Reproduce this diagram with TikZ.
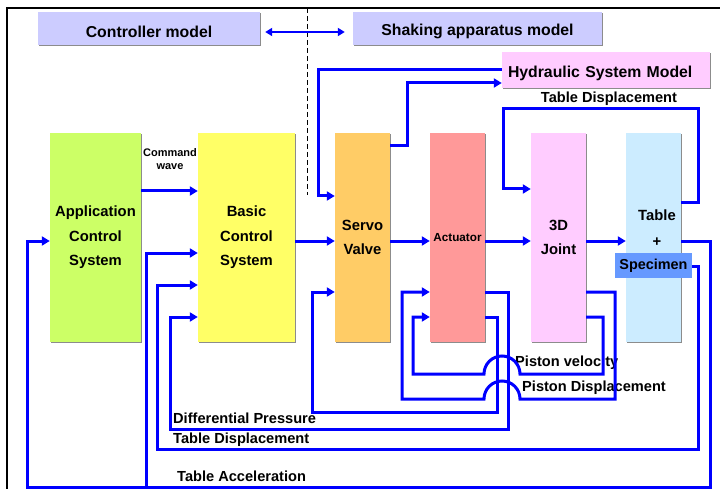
\documentclass[tikz,border=0pt]{standalone}
\usepackage{fontspec}
\setmainfont{Liberation Sans}
\usetikzlibrary{arrows.meta,shadows}
\definecolor{wireblue}{HTML}{0000FF}
\definecolor{modelblue}{HTML}{CCCCFF}
\definecolor{hydpink}{HTML}{FFCCFF}
\definecolor{appgreen}{HTML}{CCFF66}
\definecolor{basicyellow}{HTML}{FFFF66}
\definecolor{servoorange}{HTML}{FFCC66}
\definecolor{actred}{HTML}{FF9999}
\definecolor{tablecyan}{HTML}{CCECFF}
\definecolor{specblue}{HTML}{6699FF}

\begin{document}
\begin{tikzpicture}[x=1pt, y=-1pt,
    box/.style={rectangle, inner sep=0pt, align=center,
      font=\bfseries\fontsize{14.8}{24.5}\selectfont,
      drop shadow={shadow xshift=1.2pt, shadow yshift=-1.2pt, fill=black!45, opacity=1}},
    titlebox/.style={box, text height=17.5pt, font=\bfseries\fontsize{15.8}{18}\selectfont},
    wire/.style={draw=wireblue, line width=3pt},
    arr/.style={wire, -{Triangle[length=8pt, width=9pt]}},
    lbl/.style={inner sep=0pt, anchor=west, font=\bfseries\fontsize{14.6}{17}\selectfont}]
  \useasboundingbox (0,0) rectangle (720,489);
  \draw[line width=1.5pt] (7,489) -- (7,8) -- (720,8);
  \draw[line width=1pt, dash pattern=on 5pt off 3pt] (307,8) -- (307,195);

  \node[titlebox, fill=modelblue, minimum width=222pt, minimum height=33pt]
    (ctrl) at (149,28.5) {Controller model};
  \node[titlebox, fill=modelblue, minimum width=249pt, minimum height=33pt]
    (shake) at (477.5,28.5) {Shaking apparatus model};
  \node[titlebox, fill=hydpink, minimum width=208pt, minimum height=36pt,
    text width=196pt, align=left]
    (hyd) at (606,70) {Hydraulic System Model};

  \node[box, fill=appgreen, minimum width=91pt, minimum height=209pt]
    (app) at (95.5,237.5) {Application\\Control\\System};
  \node[box, fill=basicyellow, minimum width=97pt, minimum height=209pt]
    (basic) at (246.5,237.5) {Basic\\Control\\System};
  \node[box, fill=servoorange, minimum width=55pt, minimum height=209pt]
    (servo) at (362.5,237.5) {Servo\\Valve};
  \node[box, fill=actred, minimum width=55pt, minimum height=209pt,
    font=\bfseries\fontsize{11.7}{14}\selectfont]
    (act) at (457.5,237.5) {Actuator};
  \node[box, fill=hydpink, minimum width=55pt, minimum height=209pt]
    (joint) at (558.5,237.5) {3D\\Joint};
  \node[box, fill=tablecyan, minimum width=55pt, minimum height=209pt]
    (table) at (653.5,237.5) {};
  \node[inner sep=0pt, align=center, font=\bfseries\fontsize{14.8}{26}\selectfont]
    (tabletxt) at ([xshift=3.5pt, yshift=9.5pt]table.center) {Table\\+};
  \node[fill=specblue, inner sep=0pt, minimum width=77pt, minimum height=25pt,
    font=\bfseries\fontsize{14.4}{17}\selectfont]
    (spec) at (653.5,265.5) {Specimen};

  \node[inner sep=0pt, align=center, font=\bfseries\fontsize{11}{12.5}\selectfont]
    (cmdlbl) at (170,159) {Command\\wave};
  \node[lbl, anchor=center] (tdtop) at (609,99) {Table Displacement};
  \node[lbl] (pvlbl) at (515,363) {Piston velocity};
  \node[lbl] (pdlbl) at (522,388) {Piston Displacement};
  \node[lbl] (dplbl) at (173,418) {Differential Pressure};
  \node[lbl] (tdlbl) at (173,440) {Table Displacement};
  \node[lbl] (talbl) at (177,476) {Table Acceleration};

  \draw[wire, line width=2.2pt, {Triangle[length=7pt, width=8pt]}-{Triangle[length=7pt, width=8pt]}]
    ([xshift=5pt]ctrl.east |- 0,32) -- ([xshift=-8pt]shake.west |- 0,32);

  \draw[arr] (app.east |- 0,191) -- (basic.west |- 0,191);
  \draw[arr] (basic.east |- 0,241) -- (servo.west |- 0,241);
  \draw[arr] (servo.east |- 0,241) -- (act.west |- 0,241);
  \draw[arr] (act.east |- 0,241) -- (joint.west |- 0,241);
  \draw[arr] (joint.east |- 0,241) -- (table.west |- 0,241);

  \draw[arr] (servo.east |- 0,146) -| (407,83) -- (hyd.west |- 0,83);
  \draw[arr] (hyd.west |- 0,70) -| (318,196) -- (servo.west |- 0,196);
  \draw[arr] (table.east |- 0,203) -| (698,109) -| (503,189) -- (joint.west |- 0,189);

  \coordinate (accsplit) at (146,487);
  \draw[arr] (table.east |- 0,241) -| (710,487) -| (27,241) -- (app.west |- 0,241);
  \draw[arr] (accsplit) |- (basic.west |- 0,253);
  \draw[arr] (spec.east |- 0,266) -| (698,449) -| (157,285) -- (basic.west |- 0,285);
  \draw[arr] (act.east |- 0,292) -| (508,429) -| (170,317) -- (basic.west |- 0,317);
  \draw[arr] (act.east |- 0,317) -| (497,412) -| (312,292) -- (servo.west |- 0,292);
  \draw[arr] (joint.east |- 0,292) -| (615,399) -- (520,399)
    arc[start angle=0, end angle=180, radius=18pt] -- (402,399) |- (act.west |- 0,292);
  \draw[arr] (joint.east |- 0,317) -| (603,374) -- (520,374)
    arc[start angle=0, end angle=180, radius=18pt] -- (413,374) |- (act.west |- 0,317);
\end{tikzpicture}
\end{document}
